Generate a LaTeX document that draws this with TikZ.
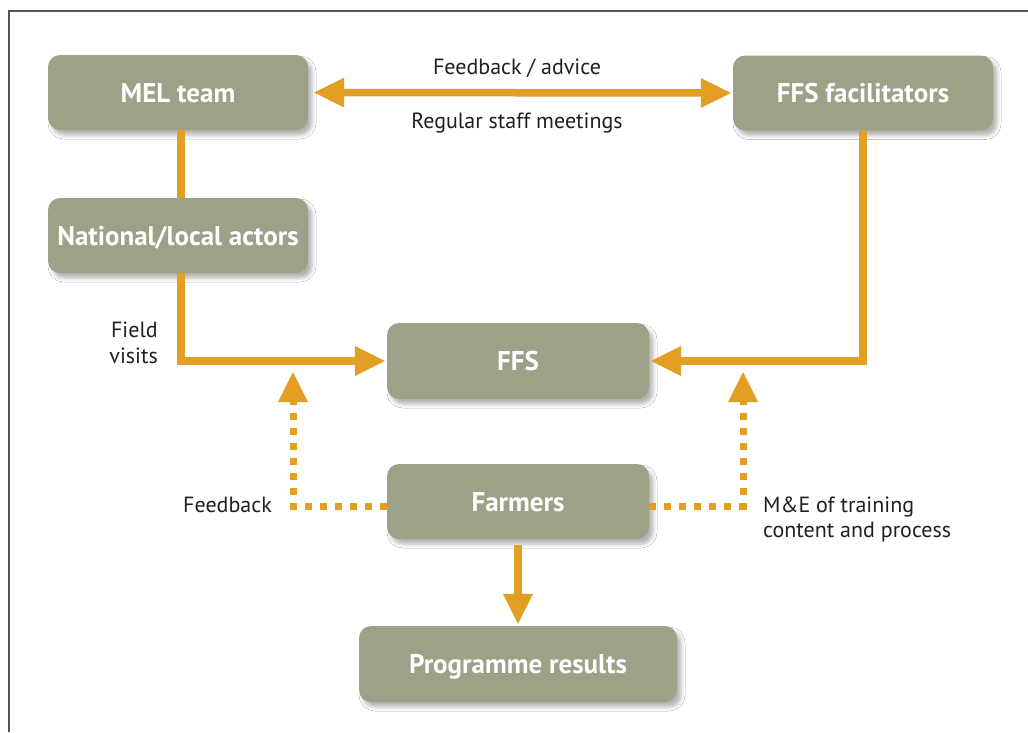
\documentclass[tikz,border=0pt]{standalone}
\usepackage{fontspec}
\setmainfont{PT Sans}
\usetikzlibrary{arrows.meta,shadows.blur}
\definecolor{boxfill}{RGB}{158,161,136}
\definecolor{orng}{RGB}{227,158,36}
\definecolor{ink}{RGB}{35,31,32}
\definecolor{framecol}{RGB}{85,85,85}
\begin{document}
\begin{tikzpicture}[x=1pt,y=-1pt,
  box/.style={fill=boxfill, rounded corners=12pt, minimum width=260pt, minimum height=75pt,
    inner sep=0pt, text=white, font=\fontsize{27}{32}\selectfont\bfseries,
    text height=19pt, text depth=0pt,
    blur shadow={shadow xshift=4pt, shadow yshift=-5pt, shadow blur radius=4pt, shadow opacity=30}},
  link/.style={draw=orng, line width=7.5pt, line join=miter},
  tipa/.style={-{Triangle[length=30pt,width=30pt,line width=0pt]}},
  dots/.style={draw=orng, line width=7pt, dash pattern=on 7pt off 8pt},
  lbl/.style={text=ink, font=\fontsize{22}{26}\selectfont, inner sep=0pt}
]
\useasboundingbox[fill=white] (0,0) rectangle (1028,732);
\draw[framecol, line width=1.3pt] (9,732) -- (9,11) -- (1028,11);

\node[box] (mel) at (178,92.5) {MEL team};
\node[box] (nat) at (178,235.5) {National/local actors};
\node[box] (fac) at (863,93) {FFS facilitators};
\node[box, minimum width=262pt, minimum height=76pt] (ffs) at (518,361) {FFS};
\node[box, minimum width=262pt] (farm) at (518,501.5) {Farmers};
\node[box, minimum width=318pt, minimum height=76pt] (prog) at (518,664) {Programme results};

\coordinate (fbtip) at (293,372);
\coordinate (metip) at (743,372);

\draw[link, {Triangle[length=30pt,width=30pt,line width=0pt]}-{Triangle[length=30pt,width=30pt,line width=0pt]},
  shorten <=6pt, shorten >=2pt] (mel.east) -- (fac.west);
\draw[link] ([xshift=3pt]mel.south) -- ([xshift=3pt]nat.north);
\draw[link, tipa, shorten >=2pt] ([xshift=3pt]nat.south) |- (ffs.west);
\draw[link, tipa, shorten >=2pt] (fac.south) |- (ffs.east);
\draw[link, tipa, shorten <=6pt, shorten >=2pt] (farm.south) -- (prog.north);
\draw[dots, tipa] ([yshift=-5pt]farm.west) -| (fbtip);
\draw[dots, tipa] ([yshift=-5pt]farm.east) -| (metip);

\node[lbl, anchor=base] (lfa) at (517,74) {Feedback / advice};
\node[lbl, anchor=base] (lrs) at (517,128) {Regular staff meetings};
\node[lbl, anchor=base east] (lfv1) at (158,337) {Field};
\node[lbl, anchor=base east] (lfv2) at (158,363) {visits};
\node[lbl, anchor=base east] (lfb) at (272,512) {Feedback};
\node[lbl, anchor=base west] (lme1) at (763,512) {M\&E of training};
\node[lbl, anchor=base west] (lme2) at (763,537) {content and process};
\end{tikzpicture}
\end{document}
